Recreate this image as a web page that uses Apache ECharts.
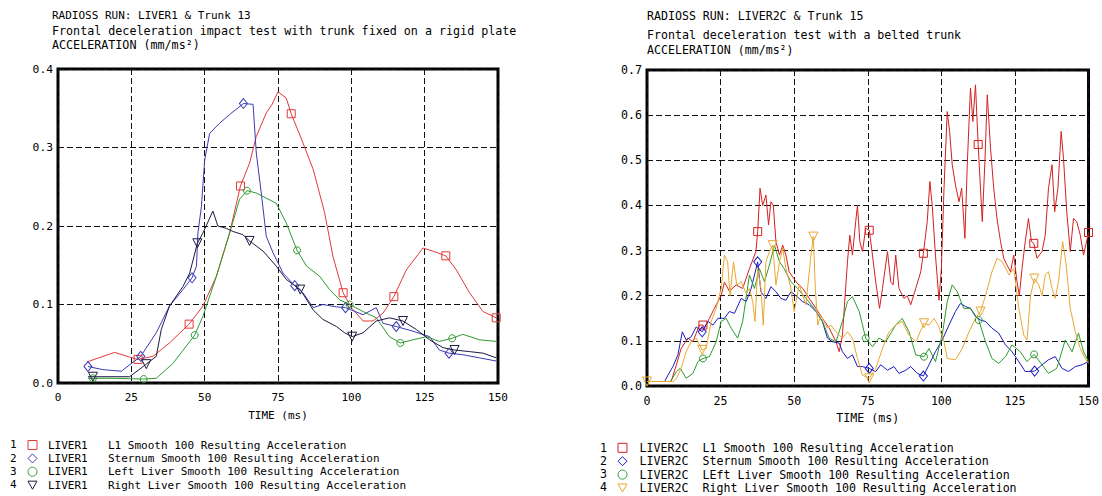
<!DOCTYPE html>
<html><head><meta charset="utf-8">
<script src="https://cdn.jsdelivr.net/npm/echarts@6/dist/echarts.min.js"></script>
<style>html,body{margin:0;padding:0;background:#fff}#c{width:1102px;height:496px}</style>
</head><body><div id="c"></div>
<script>
// ---------- DATA ----------
const xTicks = [0, 25, 50, 75, 100, 125, 150];

// Left chart: LIVER1 & Trunk 13
const leftL1 = [[10,0.027],[19.3,0.039],[24.4,0.033],[27.3,0.030],[32.4,0.034],[38,0.051],[44.7,0.075],[49.4,0.098],[54,0.136],[58.5,0.191],[62.2,0.251],[65.3,0.28],[67.6,0.314],[71,0.344],[73,0.355],[75,0.371],[77.8,0.363],[79.5,0.343],[83.5,0.306],[87,0.272],[90.9,0.217],[93.75,0.161],[97.2,0.115],[100,0.096],[104,0.079],[107.4,0.079],[110.8,0.089],[114.5,0.11],[118.75,0.144],[124.4,0.172],[127.8,0.168],[132.2,0.162],[135.8,0.144],[140.3,0.115],[144.9,0.091],[149.4,0.083]];
const leftL1Marks = [27.3,44.7,62.2,79.5,97.2,114.5,132.2,149.4];

const leftSternum = [[10.2,0.021],[15.3,0.017],[21.6,0.015],[28.2,0.034],[33.5,0.064],[38,0.098],[42.6,0.119],[45.7,0.134],[47.2,0.149],[47.7,0.191],[48.9,0.225],[50,0.284],[51.7,0.318],[55.1,0.331],[58.5,0.342],[63.2,0.356],[66.5,0.355],[67.6,0.293],[69.3,0.242],[71,0.187],[73.3,0.166],[76.7,0.14],[80.7,0.124],[83.5,0.115],[87,0.096],[90.3,0.1],[94.9,0.097],[98,0.096],[104,0.087],[108.5,0.096],[110.8,0.076],[115.3,0.072],[121,0.066],[126.7,0.059],[130,0.042],[133.3,0.038],[138,0.036],[143.75,0.032],[149.4,0.028]];
const leftSternumMarks = [10.2,28.2,45.7,63.2,80.7,98,115.3,133.3];

const leftLeftLiver = [[10.2,0.006],[11.9,0.006],[18.75,0.006],[29.2,0.005],[33.5,0.006],[39.2,0.025],[46.6,0.061],[49.4,0.085],[54,0.136],[58.5,0.191],[61.9,0.234],[64.4,0.245],[67.6,0.242],[74.4,0.229],[77.8,0.204],[81.5,0.169],[84.7,0.149],[89.2,0.136],[92.6,0.119],[96,0.106],[99.4,0.1],[104,0.091],[108.5,0.083],[113,0.059],[116.7,0.051],[121,0.055],[125.6,0.059],[130,0.053],[134.4,0.057],[138,0.062],[143.75,0.055],[149.4,0.053]];
const leftLeftLiverMarks = [11.9,29.2,46.6,64.4,81.5,99.4,116.7,134.4];

const leftRightLiver = [[10.2,0.008],[11.9,0.008],[24.4,0.008],[30.1,0.024],[33.5,0.034],[35.2,0.068],[38,0.098],[42.6,0.123],[44.9,0.14],[47.5,0.178],[49.4,0.191],[52.8,0.219],[54.5,0.2],[57.4,0.197],[59.7,0.193],[63,0.189],[65.3,0.181],[69.9,0.168],[74.4,0.149],[77.8,0.132],[82.6,0.119],[87,0.093],[90.3,0.081],[94.9,0.072],[97.7,0.064],[100.3,0.059],[104,0.064],[108.5,0.079],[113,0.083],[117.6,0.079],[122.2,0.068],[126.7,0.055],[131.25,0.045],[135.2,0.042],[140.3,0.04],[144.9,0.038],[149.4,0.032]];
const leftRightLiverMarks = [11.9,30.1,47.5,65.3,82.6,100.3,117.6,135.2];

// Right chart: LIVER2C & Trunk 15
const rightL1 = [[0,0.01],[8.2,0.01],[10,0.047],[11.6,0.083],[13.9,0.106],[15.6,0.098],[17.8,0.135],[19,0.135],[19.5,0.128],[21.2,0.15],[23.5,0.18],[25.2,0.2],[26.3,0.23],[28,0.21],[30.3,0.224],[32.5,0.216],[34.8,0.26],[37,0.298],[37.6,0.342],[38.4,0.438],[39.3,0.4],[40.4,0.423],[41.3,0.357],[42.1,0.408],[42.9,0.4],[43.8,0.32],[45,0.29],[46.1,0.312],[47.2,0.29],[48.3,0.253],[50.6,0.231],[52.9,0.216],[55.1,0.194],[57.4,0.172],[59.6,0.15],[61.9,0.128],[64.2,0.098],[65.3,0.076],[66.4,0.113],[68.1,0.275],[68.9,0.334],[69.8,0.29],[70.9,0.364],[71.5,0.4],[72.3,0.32],[73.2,0.298],[74.3,0.349],[75.5,0.345],[76.6,0.29],[77.7,0.231],[79,0.172],[80,0.216],[81.7,0.298],[82.8,0.231],[83.6,0.224],[84.5,0.29],[85.6,0.216],[87.3,0.194],[88.4,0.2],[89.6,0.18],[91.3,0.216],[93,0.253],[93.9,0.294],[95.2,0.364],[96.1,0.453],[96.9,0.4],[98,0.29],[99.2,0.19],[100,0.26],[100.9,0.438],[102,0.608],[102.8,0.564],[103.7,0.49],[104.8,0.445],[106,0.408],[106.9,0.438],[108,0.327],[108.8,0.49],[109.9,0.66],[110.7,0.586],[111.6,0.667],[112.5,0.535],[113.9,0.364],[114.8,0.497],[115.6,0.645],[116.7,0.527],[117.8,0.438],[118.9,0.371],[120.1,0.32],[121.2,0.283],[122.3,0.268],[123.5,0.253],[124.6,0.29],[125.7,0.231],[126.5,0.2],[127.4,0.26],[128.5,0.32],[129.6,0.371],[130.6,0.32],[131.4,0.316],[132.5,0.283],[134.2,0.298],[135.3,0.334],[136.4,0.438],[137.6,0.49],[138.5,0.386],[139.6,0.438],[140.7,0.564],[141.5,0.504],[142.6,0.386],[143.8,0.298],[144.9,0.371],[146,0.364],[147.2,0.334],[148.3,0.29],[150,0.34]];
const rightL1Marks = [19,37.6,75.5,93.9,112.5,131.4,150];

const rightSternum = [[0,0.01],[6,0.01],[7.1,0.024],[8.8,0.043],[10.5,0.069],[12,0.12],[13.3,0.102],[15,0.109],[16.7,0.131],[18.75,0.12],[20.7,0.143],[22.4,0.135],[24.1,0.15],[26.3,0.15],[28,0.165],[29.7,0.161],[32,0.194],[33.7,0.187],[35.4,0.216],[37.6,0.275],[38.7,0.209],[40.4,0.194],[42.1,0.22],[43.8,0.209],[45.5,0.194],[47.2,0.19],[48.9,0.209],[50.6,0.2],[52.9,0.187],[55.1,0.18],[57.4,0.165],[59.6,0.143],[61.3,0.106],[63,0.098],[65.3,0.095],[66.4,0.076],[68.1,0.061],[69.8,0.069],[71.5,0.043],[73.2,0.043],[75.5,0.039],[77.7,0.032],[79.4,0.047],[81.7,0.035],[83.9,0.043],[85.6,0.028],[87.9,0.035],[89.6,0.043],[91.8,0.028],[93.9,0.022],[95.8,0.047],[98,0.076],[100.3,0.102],[102.6,0.135],[104.8,0.165],[106.5,0.183],[108.2,0.176],[109.9,0.172],[111.6,0.154],[113.3,0.146],[115,0.143],[117.2,0.128],[119.5,0.117],[121.8,0.091],[124,0.076],[126.3,0.054],[128.5,0.032],[131.7,0.033],[134.2,0.047],[136.4,0.058],[138.7,0.065],[141,0.039],[143.2,0.032],[145.5,0.043],[147.8,0.047],[150,0.054]];
const rightSternumMarks = [18.75,37.6,75.5,93.9,131.7];

const rightLeftLiver = [[0,0.01],[8,0.01],[10,0.032],[11.3,0.039],[13.3,0.017],[15.6,0.028],[17.3,0.054],[19,0.061],[21.2,0.065],[23.5,0.098],[25.2,0.143],[26.9,0.15],[28.6,0.128],[30.8,0.106],[32.5,0.143],[34.8,0.246],[36.5,0.216],[38.2,0.26],[39.9,0.231],[41.6,0.268],[43.3,0.312],[45,0.275],[46.6,0.26],[48.9,0.231],[51.2,0.216],[54,0.194],[56.8,0.172],[59.6,0.143],[61.9,0.106],[64.2,0.098],[66.4,0.143],[68.1,0.187],[69.8,0.198],[72.1,0.165],[74.3,0.106],[76.6,0.087],[78.8,0.106],[81.1,0.098],[84.5,0.135],[86.7,0.15],[89,0.12],[91.3,0.069],[94.1,0.065],[95.8,0.083],[98,0.054],[100.3,0.113],[102,0.187],[103.7,0.224],[105.4,0.209],[107.6,0.172],[109.9,0.172],[112.7,0.146],[115,0.098],[117.2,0.061],[119.5,0.05],[121.8,0.065],[124,0.091],[126.8,0.076],[129.1,0.054],[131.5,0.07],[134.2,0.047],[136.4,0.028],[139.2,0.039],[142.1,0.102],[144.4,0.076],[146.6,0.117],[148.3,0.076],[150,0.054]];
const rightLeftLiverMarks = [19,74.3,94.1,112.7,131.5];

const rightRightLiver = [[0,0.01],[9,0.01],[10,0.017],[11.6,0.039],[13.3,0.076],[15,0.098],[16.7,0.106],[18.75,0.08],[20.1,0.083],[21.8,0.143],[23.5,0.172],[25.2,0.216],[26.3,0.29],[27.4,0.275],[28.2,0.2],[29.4,0.275],[30.5,0.224],[32,0.231],[33.7,0.205],[34.8,0.216],[35.9,0.187],[36.7,0.143],[37.6,0.26],[38.7,0.216],[39.5,0.135],[40.4,0.275],[41.6,0.298],[42.7,0.312],[43.8,0.224],[45,0.275],[46.1,0.305],[47.2,0.26],[48.9,0.216],[50,0.165],[51.7,0.224],[54,0.18],[55.7,0.29],[56.5,0.331],[57.2,0.216],[58,0.135],[59.1,0.157],[60.2,0.143],[61.3,0.128],[62.5,0.135],[64.2,0.12],[66.4,0.106],[68.1,0.12],[69.8,0.106],[71.5,0.061],[73.2,0.024],[75.5,0.017],[77.7,0.039],[80,0.083],[82.2,0.12],[84.5,0.135],[86.7,0.143],[89,0.113],[91.3,0.098],[94.1,0.139],[95.8,0.135],[97.5,0.15],[99.2,0.131],[100.9,0.098],[102,0.061],[104.8,0.058],[107.1,0.083],[109.4,0.12],[111.6,0.15],[113.3,0.165],[115,0.2],[117.2,0.253],[118.9,0.283],[120.7,0.275],[123,0.246],[124.6,0.26],[126.3,0.172],[128,0.113],[129.1,0.102],[130.3,0.2],[131.6,0.238],[133.1,0.224],[134.2,0.2],[135.3,0.246],[136.4,0.253],[137.6,0.216],[138.7,0.194],[139.8,0.231],[141.2,0.32],[142.3,0.275],[143.8,0.172],[145.5,0.12],[147.2,0.083],[148.9,0.061],[150,0.05]];
const rightRightLiverMarks = [0,18.75,42.7,56.5,75.5,94.1,113.3,131.6];

// ---------- STYLE ----------
const MONO = 'DejaVu Sans Mono';
const C = {red1:'#e03a3a', blue1:'#3a3ab4', green1:'#2e9a2e', dark1:'#1a1a40',
           red2:'#d42020', blue2:'#1a1ac0', green2:'#2e9a2e', orange2:'#e8a830'};
const SQ = 'rect', DI = 'diamond', CI = 'circle', TRI = 'path://M0,0L10,0L5,9Z';

function mk(name, data, marks, color, symbol, size, gi) {
  return {
    type: 'line', name, xAxisIndex: gi, yAxisIndex: gi,
    symbol, symbolSize: size, showSymbol: true, animation: false,
    lineStyle: {color, width: 1}, emphasis: {disabled: true},
    itemStyle: {color: 'rgba(255,255,255,0)', borderColor: color, borderWidth: 1},
    data: data.map(p => marks.includes(p[0]) ? {value: p} : {value: p, symbol: 'none'})
  };
}
const N = {
  a1: 'LIVER1|L1 Smooth 100 Resulting Acceleration',
  a2: 'LIVER1|Sternum Smooth 100 Resulting Acceleration',
  a3: 'LIVER1|Left Liver Smooth 100 Resulting Acceleration',
  a4: 'LIVER1|Right Liver Smooth 100 Resulting Acceleration',
  b1: 'LIVER2C|L1 Smooth 100 Resulting Acceleration',
  b2: 'LIVER2C|Sternum Smooth 100 Resulting Acceleration',
  b3: 'LIVER2C|LEft Liver Smooth 100 Resulting Acceleration',
  b4: 'LIVER2C|Right Liver Smooth 100 Resulting Acceleration'
};

function xAx(gi, fs, gap) {
  return {type: 'value', gridIndex: gi, min: 0, max: 150, interval: 25,
    name: 'TIME (ms)', nameLocation: 'middle', nameGap: gap,
    nameTextStyle: {fontFamily: MONO, fontSize: fs, color: '#000'},
    axisLine: {show: false}, axisTick: {show: false},
    axisLabel: {fontFamily: MONO, fontSize: fs, color: '#000', margin: 9},
    splitLine: {show: true, lineStyle: {color: '#111', width: 1, type: [6, 3]}}};
}
function yAx(gi, max, fs) {
  return {type: 'value', gridIndex: gi, min: 0, max, interval: 0.1,
    axisLine: {show: false}, axisTick: {show: false},
    axisLabel: {fontFamily: MONO, fontSize: fs, color: '#000', margin: 5, formatter: v => v.toFixed(1)},
    splitLine: {show: true, lineStyle: {color: '#111', width: 1, type: [6, 3]}}};
}
function legend(left, top, names, items, fs, aw, pad) {
  return {orient: 'vertical', left, top, itemWidth: 9, itemHeight: 9, itemGap: 0.2,
    selectedMode: false, padding: 0,
    data: names.map((n, i) => ({name: n, icon: items[i][0],
      itemStyle: {color: 'rgba(255,255,255,0)', borderColor: items[i][1], borderWidth: 1}})),
    formatter: n => { const s = n.split('|'); return '{a|' + s[0] + '}{b|' + s[1] + '}'; },
    textStyle: {fontFamily: MONO, fontSize: fs, color: '#000', lineHeight: 13.2,
      rich: {a: {fontFamily: MONO, fontSize: fs, width: aw, padding: [0, 0, 0, pad]},
             b: {fontFamily: MONO, fontSize: fs}}}};
}
const tStyle = fs => ({fontFamily: MONO, fontSize: fs, fontWeight: 'normal', color: '#000', lineHeight: 13});

const option = {
  backgroundColor: '#fff',
  animation: false,
  title: [
    {left: 52, top: 9, padding: 0, text: 'RADIOSS RUN: LIVER1 & Trunk 13', textStyle: tStyle(11)},
    {left: 52, top: 24.5, padding: 0, text: 'Frontal deceleration impact test with trunk fixed on a rigid plate', textStyle: tStyle(11.7)},
    {left: 52, top: 38, padding: 0, text: 'ACCELERATION (mm/ms²)', textStyle: tStyle(11.7)},
    {left: 647, top: 9, padding: 0, text: 'RADIOSS RUN: LIVER2C & Trunk 15', textStyle: tStyle(11.6)},
    {left: 647, top: 28.5, padding: 0, text: 'Frontal deceleration test with a belted trunk', textStyle: tStyle(11.6)},
    {left: 647, top: 43, padding: 0, text: 'ACCELERATION (mm/ms²)', textStyle: tStyle(11.6)}
  ],
  grid: [
    {left: 58, top: 69, width: 440, height: 314, show: true, borderColor: '#000', borderWidth: 3, backgroundColor: 'transparent'},
    {left: 647, top: 70, width: 443, height: 316, show: true, borderColor: '#000', borderWidth: 3, backgroundColor: 'transparent'}
  ],
  xAxis: [xAx(0, 11, 27), xAx(1, 11.6, 26)],
  yAxis: [yAx(0, 0.4, 11.3), yAx(1, 0.7, 11.6)],
  legend: [
    legend(27.5, 438.4, [N.a1, N.a2, N.a3, N.a4],
      [[SQ, C.red1], [DI, C.blue1], [CI, C.green1], [TRI, C.dark1]], 11, 60, 6),
    legend(617.5, 441.2, [N.b1, N.b2, N.b3, N.b4],
      [[SQ, C.red2], [DI, C.blue2], [CI, C.green2], [TRI, C.orange2]], 11.6, 63, 7.5)
  ],
  graphic: [
    {type: 'text', left: 10, top: 438.4, style: {text: '1\n2\n3\n4', font: '11px "DejaVu Sans Mono"', lineHeight: 13.2, fill: '#000'}},
    {type: 'text', left: 600, top: 441.2, style: {text: '1\n2\n3\n4', font: '11.6px "DejaVu Sans Mono"', lineHeight: 13, fill: '#000'}}
  ],
  series: [
    mk(N.a1, leftL1, leftL1Marks, C.red1, SQ, 8, 0),
    mk(N.a2, leftSternum, leftSternumMarks, C.blue1, DI, [8, 10], 0),
    mk(N.a3, leftLeftLiver, leftLeftLiverMarks, C.green1, CI, 7, 0),
    mk(N.a4, leftRightLiver, leftRightLiverMarks, C.dark1, TRI, 9, 0),
    mk(N.b1, rightL1, rightL1Marks, C.red2, SQ, 8, 1),
    mk(N.b2, rightSternum, rightSternumMarks, C.blue2, DI, [8, 10], 1),
    mk(N.b3, rightLeftLiver, rightLeftLiverMarks, C.green2, CI, 7, 1),
    mk(N.b4, rightRightLiver, rightRightLiverMarks, C.orange2, TRI, 9, 1)
  ]
};
const chart = echarts.init(document.getElementById('c'), null, {renderer: 'svg', width: 1102, height: 496});
chart.setOption(option);
</script></body></html>
